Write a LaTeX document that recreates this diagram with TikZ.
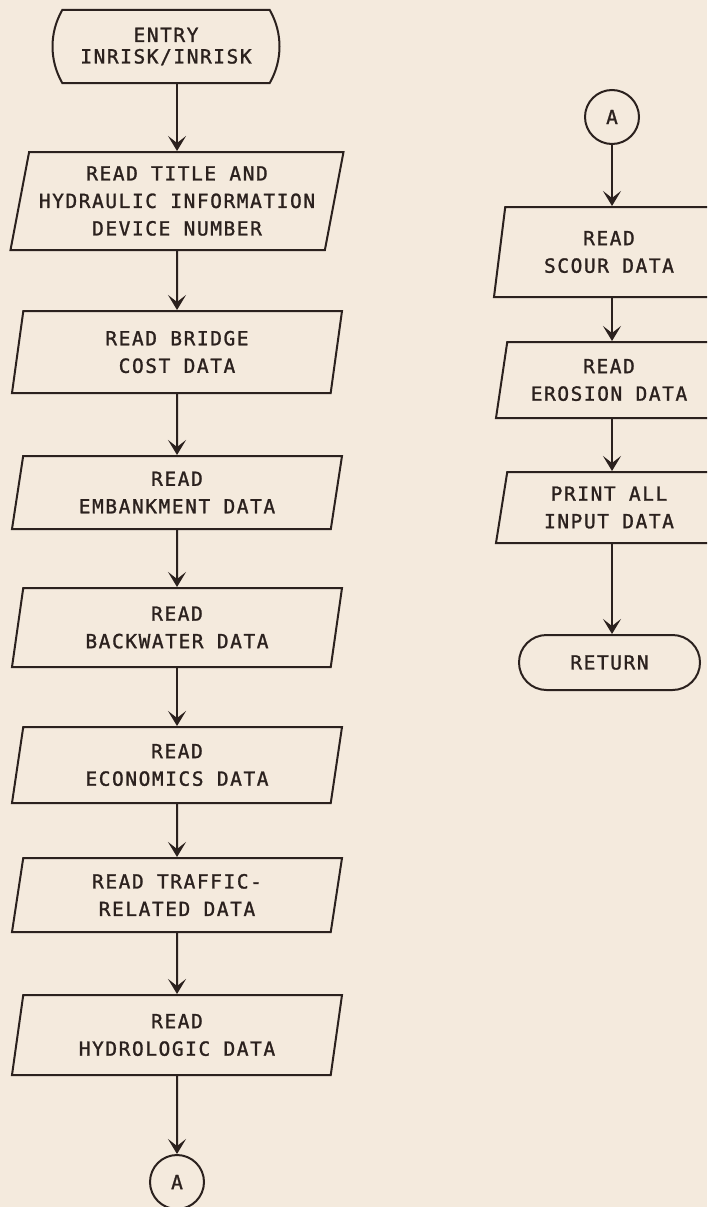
\documentclass[tikz,border=0pt]{standalone}
\usepackage{fontspec}
\usetikzlibrary{shapes.geometric,shapes.misc,arrows.meta}
\newfontfamily\lettering[LetterSpace=8,FakeBold=1.3]{DejaVu Sans Mono}
\definecolor{paper}{HTML}{F4EADD}
\definecolor{inkc}{HTML}{2B211E}
\tikzset{
  ink/.style={draw=inkc, line width=2pt},
  txt/.style={text=inkc, align=center, font={\lettering\fontsize{19.5}{27.5}\selectfont}},
  io/.style={trapezium, trapezium left angle=75, trapezium right angle=105,
             trapezium stretches body, ink, txt, inner sep=0pt},
  term/.style={rounded rectangle, ink, txt, inner sep=0pt},
  conn/.style={circle, ink, txt, minimum size=54pt, inner sep=0pt},
  flow/.style={draw=inkc, line width=2pt, -{Stealth[length=15pt,width=18pt,inset=7pt]}},
}
\begin{document}
\begin{tikzpicture}[x=1pt,y=-1pt]
  \fill[paper] (0,0) rectangle (707,1207);
  \useasboundingbox (0,0) rectangle (707,1207);
  \clip (0,0) rectangle (707,1207);

  % main input sequence
  \node[term, rounded rectangle arc length=60, minimum width=227pt, minimum height=73pt,
        font={\lettering\fontsize{19.5}{21.5}\selectfont}]
        (entry) at (166,46.5) {ENTRY\\INRISK/INRISK};
  \node[io, minimum width=333pt, minimum height=98pt] (b1) at (177,201)
        {READ TITLE AND\\HYDRAULIC INFORMATION\\DEVICE NUMBER};
  \node[io, minimum width=330pt, minimum height=82pt] (b2) at (177,352) {READ BRIDGE\\COST DATA};
  \node[io, minimum width=330pt, minimum height=73pt] (b3) at (177,492.5) {READ\\EMBANKMENT DATA};
  \node[io, minimum width=330pt, minimum height=79pt] (b4) at (177,627.5) {READ\\BACKWATER DATA};
  \node[io, minimum width=330pt, minimum height=76pt] (b5) at (177,765) {READ\\ECONOMICS DATA};
  \node[io, minimum width=330pt, minimum height=74pt] (b6) at (177,895) {READ TRAFFIC-\\RELATED DATA};
  \node[io, minimum width=330pt, minimum height=80pt] (b7) at (177,1035) {READ\\HYDROLOGIC DATA};
  \node[conn] (a1) at (177,1182) {A};

  % continuation
  \node[conn] (a2) at (612,117) {A};
  \node[io, minimum width=230pt, minimum height=90pt] (b8) at (609,252) {READ\\SCOUR DATA};
  \node[io, minimum width=226pt, minimum height=76pt] (b9) at (609,380) {READ\\EROSION DATA};
  \node[io, minimum width=226pt, minimum height=71pt] (b10) at (609,507.5) {PRINT ALL\\INPUT DATA};
  \node[term, minimum width=181pt, minimum height=55pt] (ret) at (609.5,662.5) {RETURN};

  \draw[flow] (b1.north |- entry.south) -- (b1.north);
  \draw[flow] (b1.south) -- (b2.north);
  \draw[flow] (b2.south) -- (b3.north);
  \draw[flow] (b3.south) -- (b4.north);
  \draw[flow] (b4.south) -- (b5.north);
  \draw[flow] (b5.south) -- (b6.north);
  \draw[flow] (b6.south) -- (b7.north);
  \draw[flow] (b7.south) -- (a1.north);

  \draw[flow] (a2.south) -- (a2.south |- b8.north);
  \draw[flow] (a2.south |- b8.south) -- (a2.south |- b9.north);
  \draw[flow] (a2.south |- b9.south) -- (a2.south |- b10.north);
  \draw[flow] (a2.south |- b10.south) -- (a2.south |- ret.north);
\end{tikzpicture}
\end{document}
